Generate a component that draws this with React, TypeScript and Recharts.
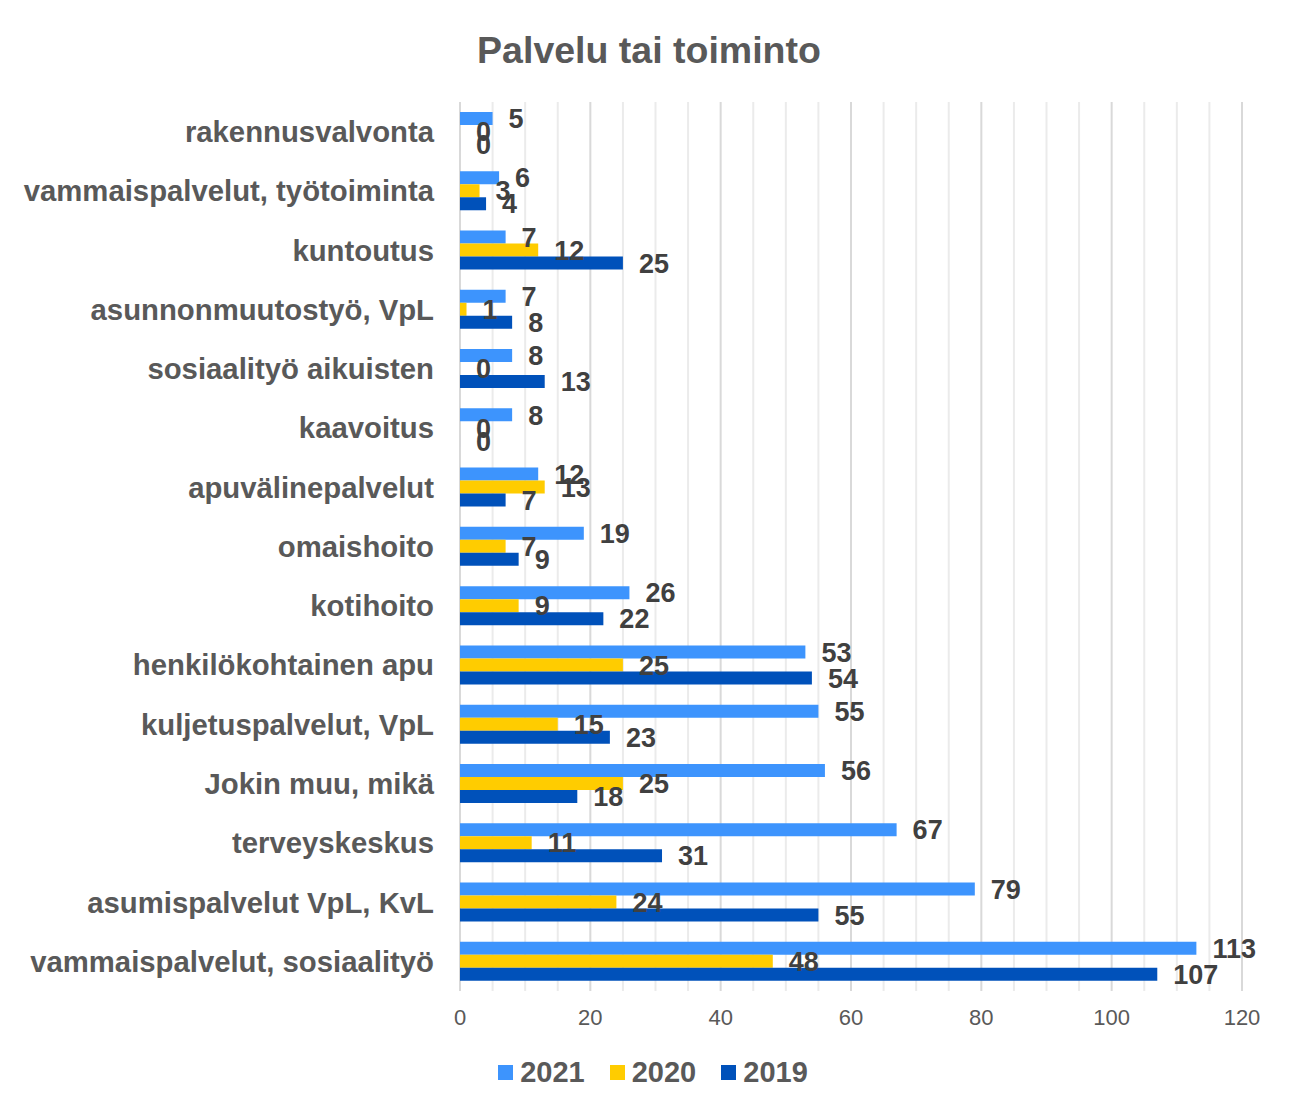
import { BarChart, Bar, XAxis, YAxis, CartesianGrid, LabelList } from "recharts";

const categories = [
  "rakennusvalvonta",
  "vammaispalvelut, työtoiminta",
  "kuntoutus",
  "asunnonmuutostyö, VpL",
  "sosiaalityö aikuisten",
  "kaavoitus",
  "apuvälinepalvelut",
  "omaishoito",
  "kotihoito",
  "henkilökohtainen apu",
  "kuljetuspalvelut, VpL",
  "Jokin muu, mikä",
  "terveyskeskus",
  "asumispalvelut VpL, KvL",
  "vammaispalvelut, sosiaalityö",
];

const values2021 = [5, 6, 7, 7, 8, 8, 12, 19, 26, 53, 55, 56, 67, 79, 113];
const values2020 = [0, 3, 12, 1, 0, 0, 13, 7, 9, 25, 15, 25, 11, 24, 48];
const values2019 = [0, 4, 25, 8, 13, 0, 7, 9, 22, 54, 23, 18, 31, 55, 107];

const majorTicks = [0, 20, 40, 60, 80, 100, 120];
const minorTicks = [5, 10, 15, 25, 30, 35, 45, 50, 55, 65, 70, 75, 85, 90, 95, 105, 110, 115];

const series = [
  { key: "y2021", name: "2021", color: "#3d94fd" },
  { key: "y2020", name: "2020", color: "#ffcc00" },
  { key: "y2019", name: "2019", color: "#0051ba" },
];

const data = categories.map((name, i) => ({
  name,
  y2021: values2021[i],
  y2020: values2020[i],
  y2019: values2019[i],
}));

const FONT = '"Liberation Sans", Arial, sans-serif';

// label drawn from the bar rect, so zero-width bars still get their "0"
const ValueLabel = (props: any) => {
  const { x, y, width, height, value } = props;
  if (value == null) return null;
  return (
    <text
      x={Number(x) + Math.max(Number(width) || 0, 0) + 16}
      y={Number(y) + Number(height) / 2}
      dy="0.36em"
      fill="#404040"
      fontSize={27}
      fontWeight="bold"
      fontFamily={FONT}
    >
      {value}
    </text>
  );
};

// tiny invisible size for zeros so the rect (and its label) is kept
const zeroSize = (value: any) => (Number(value) === 0 ? 0.01 : 0);

export default function App() {
  return (
    <div
      style={{
        position: "relative",
        width: 1290,
        height: 1110,
        marginLeft: -1,
        marginTop: -1,
        border: "1px solid #d9d9d9",
        fontFamily: FONT,
        background: "#fff",
      }}
    >
      <div
        style={{
          position: "absolute",
          top: 21,
          left: 0,
          width: 1282,
          textAlign: "center",
          fontSize: 37.5,
          fontWeight: "bold",
          color: "#595959",
        }}
      >
        Palvelu tai toiminto
      </div>
      <BarChart
        width={1282}
        height={1040}
        data={data}
        layout="vertical"
        margin={{ top: 94, right: 48, left: 0, bottom: 27 }}
        barSize={13}
        barGap={0}
      >
        <CartesianGrid
          horizontal={false}
          verticalValues={minorTicks}
          stroke="#ebebeb"
          strokeWidth={2}
        />
        <CartesianGrid horizontal={false} stroke="#d9d9d9" strokeWidth={2} />
        <XAxis
          type="number"
          domain={[0, 120]}
          ticks={majorTicks}
          axisLine={false}
          tickLine={false}
          tickSize={0}
          tickMargin={18}
          tick={{ fill: "#595959", fontSize: 22, fontFamily: FONT }}
        />
        <YAxis
          type="category"
          dataKey="name"
          width={452}
          axisLine={false}
          tickLine={false}
          tickSize={0}
          tickMargin={26}
          tick={{
            fill: "#595959",
            fontSize: 29.3,
            fontWeight: "bold",
            fontFamily: FONT,
          }}
        />
        {series.map((s) => (
          <Bar
            key={s.key}
            dataKey={s.key}
            name={s.name}
            fill={s.color}
            minPointSize={zeroSize}
            isAnimationActive={false}
          >
            <LabelList dataKey={s.key} content={ValueLabel} />
          </Bar>
        ))}
      </BarChart>
      <div
        style={{
          position: "absolute",
          top: 1048,
          left: 0,
          width: 1290,
          display: "flex",
          justifyContent: "center",
          gap: 25,
        }}
      >
        {series.map((s) => (
          <div
            key={s.key}
            style={{ display: "flex", alignItems: "center", gap: 7 }}
          >
            <span
              style={{
                display: "inline-block",
                width: 15,
                height: 15,
                background: s.color,
              }}
            />
            <span
              style={{
                fontSize: 29,
                fontWeight: "bold",
                color: "#595959",
              }}
            >
              {s.name}
            </span>
          </div>
        ))}
      </div>
    </div>
  );
}
